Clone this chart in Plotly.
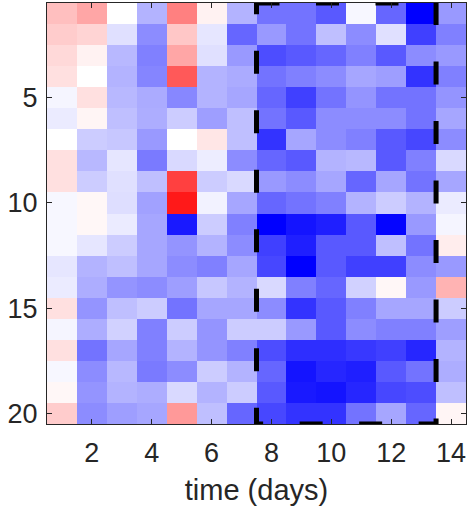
"""Day-by-row change heatmap with highlighted window (blue-white-red)."""
import plotly.graph_objects as go

days = list(range(1, 15))
rows = list(range(1, 21))
x_ticks = [2, 4, 6, 8, 10, 12, 14]
y_ticks = [5, 10, 15, 20]
window_days = [8, 13]   # highlighted period (first, last day)

# one list per row (1..20), one value per day (1..14), -1 = blue, +1 = red
z = [
    [0.25, 0.35, 0.00, -0.30, 0.50, 0.05, -0.30, -0.55, -0.55, -0.65, -0.03, -0.60, -1.00, -0.40],
    [0.20, 0.17, -0.12, -0.45, 0.22, -0.10, -0.60, -0.40, -0.55, -0.25, -0.45, -0.12, -0.75, -0.50],
    [0.15, 0.05, -0.28, -0.50, 0.35, -0.12, -0.40, -0.70, -0.65, -0.60, -0.50, -0.65, -0.45, -0.40],
    [0.12, 0.00, -0.30, -0.48, 0.65, -0.30, -0.33, -0.55, -0.50, -0.45, -0.35, -0.38, -0.80, -0.50],
    [-0.04, 0.12, -0.28, -0.33, -0.47, -0.30, -0.35, -0.60, -0.75, -0.55, -0.42, -0.55, -0.55, -0.42],
    [-0.08, 0.04, -0.25, -0.32, -0.20, -0.38, -0.25, -0.55, -0.65, -0.45, -0.45, -0.45, -0.55, -0.35],
    [0.00, -0.20, -0.22, -0.40, 0.00, 0.10, -0.25, -0.80, -0.35, -0.45, -0.50, -0.65, -0.72, -0.45],
    [0.12, -0.28, -0.10, -0.52, -0.15, -0.07, -0.45, -0.60, -0.65, -0.30, -0.28, -0.65, -0.50, -0.15],
    [0.12, -0.20, -0.12, -0.25, 0.75, -0.20, -0.15, -0.40, -0.45, -0.35, -0.60, -0.35, -0.55, -0.35],
    [-0.03, 0.03, -0.13, -0.37, 0.90, -0.05, -0.35, -0.60, -0.55, -0.50, -0.30, -0.20, -0.30, -0.08],
    [-0.03, 0.03, -0.08, -0.35, -0.90, -0.20, -0.50, -1.00, -0.92, -0.88, -0.65, -0.98, -0.40, -0.04],
    [-0.03, -0.10, -0.20, -0.35, -0.42, -0.30, -0.45, -0.75, -0.88, -0.65, -0.65, -0.25, -0.55, 0.07],
    [-0.10, -0.30, -0.25, -0.35, -0.45, -0.50, -0.35, -0.72, -1.00, -0.65, -0.75, -0.75, -0.45, -0.40],
    [-0.08, -0.32, -0.42, -0.45, -0.38, -0.22, -0.30, -0.15, -0.50, -0.60, -0.18, 0.03, -0.40, 0.30],
    [0.12, -0.42, -0.25, -0.20, -0.55, -0.35, -0.35, -0.45, -0.80, -0.65, -0.50, -0.35, -0.35, -0.20],
    [-0.04, -0.32, -0.18, -0.50, -0.20, -0.42, -0.20, -0.20, -0.40, -0.65, -0.45, -0.50, -0.50, -0.38],
    [0.12, -0.55, -0.35, -0.50, -0.30, -0.42, -0.50, -0.70, -0.82, -0.82, -0.78, -0.75, -0.85, -0.30],
    [-0.03, -0.45, -0.28, -0.52, -0.45, -0.20, -0.30, -0.60, -0.92, -0.85, -0.88, -0.65, -0.55, -0.32],
    [0.03, -0.42, -0.30, -0.32, -0.15, -0.30, -0.20, -0.65, -0.90, -0.92, -0.85, -0.72, -0.70, -0.25],
    [0.20, -0.45, -0.38, -0.35, 0.40, -0.25, -0.60, -0.72, -0.80, -0.80, -0.55, -0.35, -0.60, 0.04],
]

_FONT = dict(family="Liberation Sans, Arial, sans-serif", size=27, color="#262626")
_AXIS = "#262626"

fig = go.Figure()

fig.add_trace(go.Heatmap(
    x=days, y=rows, z=z,
    colorscale=[[0, "#0000ff"], [0.5, "#ffffff"], [1, "#ff0000"]],
    zmin=-1, zmax=1, showscale=False, hoverinfo="skip",
))

# dashed box round the highlighted window: top, right, bottom, left
x0, x1 = window_days[0] - 0.5, window_days[1] + 0.5
y_top, y_bot = rows[0] - 0.5, rows[-1] + 0.5
fig.add_trace(go.Scatter(
    x=[x0, x1, x1, x0, x0], y=[y_top, y_top, y_bot, y_bot, y_top],
    mode="lines", line=dict(color="#000000", width=5, dash="23px,36.5px"),
    showlegend=False, hoverinfo="skip",
))

fig.update_layout(
    width=475, height=506,
    margin=dict(l=47, r=9, t=3, b=82),
    paper_bgcolor="#ffffff", plot_bgcolor="#ffffff",
    font=_FONT,
    xaxis=dict(
        range=[0.5, 14.5], tickvals=x_ticks, ticks="inside", ticklen=5,
        tickcolor=_AXIS, showline=True, linecolor=_AXIS, linewidth=1,
        mirror="ticks", showgrid=False, zeroline=False, automargin=False,
        ticklabelstandoff=5,
        title=dict(text="time (days)", font=dict(size=29), standoff=12),
    ),
    yaxis=dict(
        range=[20.5, 0.5], tickvals=y_ticks, ticks="inside", ticklen=5,
        tickcolor=_AXIS, showline=True, linecolor=_AXIS, linewidth=1,
        mirror="ticks", showgrid=False, zeroline=False, automargin=False,
        ticklabelstandoff=3,
    ),
)

# the page body has a default 8px margin; drop it so the figure fills the window
fig.write_html("out.html", config={"displayModeBar": False},
               post_script="document.body.style.margin='0';")
